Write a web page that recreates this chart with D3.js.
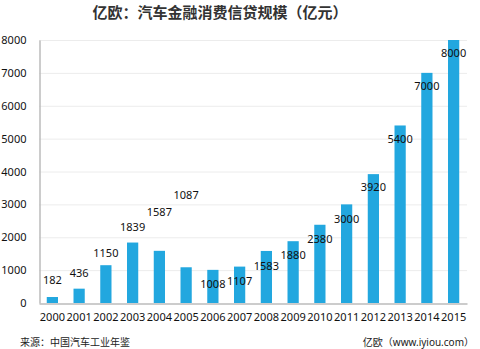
<!DOCTYPE html>
<html><head><meta charset="utf-8">
<script src="https://cdn.jsdelivr.net/npm/d3@7"></script>
<style>
html,body{margin:0;padding:0;background:#fff;}
svg{display:block;font-family:"Noto Sans","Noto Sans CJK SC",sans-serif;}
</style></head>
<body><svg id="c" width="480" height="349"></svg>
<script>
const years = ["2000","2001","2002","2003","2004","2005","2006","2007","2008","2009","2010","2011","2012","2013","2014","2015"];
const values = [182,436,1150,1839,1587,1087,1008,1107,1583,1880,2380,3000,3920,5400,7000,8000];
// where each value label sits, in data units (as in the original picture)
const labelAt = [700,910,1520,2310,2770,3280,580,670,1120,1460,1950,2560,3530,4980,6600,7600];
const yTicks = [0,1000,2000,3000,4000,5000,6000,7000,8000];
const title = "亿欧：汽车金融消费信贷规模（亿元）";
const source = "来源：中国汽车工业年鉴";
const credit = "亿欧（www.iyiou.com）";

const svg = d3.select("#c");
const x = d3.scaleBand().domain(years).range([39,467]).paddingInner(0.58).paddingOuter(0.29);
const y = d3.scaleLinear().domain([0,8000]).range([303,40]);

svg.append("text").attr("x",220).attr("y",18).attr("text-anchor","middle")
  .attr("font-size",15).attr("font-weight","bold").attr("fill","#333").text(title);

// gridlines
svg.append("g").selectAll("line").data(yTicks.slice(1)).join("line")
  .attr("x1",39).attr("x2",467).attr("y1",d=>y(d)+0.5).attr("y2",d=>y(d)+0.5)
  .attr("stroke","#ececec").attr("stroke-width",1);

// y axis
const ya = svg.append("g").attr("transform","translate(39.5,0)")
  .call(d3.axisLeft(y).tickValues(yTicks).tickSize(0).tickPadding(13).tickFormat(d3.format("d")));
ya.select(".domain").attr("stroke","#bbb").attr("stroke-width",1.5);
ya.selectAll("text").attr("font-size",11).attr("fill","#111").attr("font-family","'Noto Sans',sans-serif");

// bars
svg.append("g").selectAll("rect").data(values).join("rect")
  .attr("x",(d,i)=>x(years[i])).attr("width",x.bandwidth())
  .attr("y",d=>y(d)).attr("height",d=>y(0)-y(d)).attr("fill","#22a7df");

// x axis
const xa = svg.append("g").attr("transform","translate(0,303.5)")
  .call(d3.axisBottom(x).tickSize(0).tickPadding(10));
xa.select(".domain").attr("stroke","#bbb").attr("stroke-width",1.5);
xa.selectAll("text").attr("font-size",11).attr("fill","#111").attr("font-family","'Noto Sans',sans-serif");

// labels
svg.append("g").selectAll("text").data(values).join("text")
  .attr("x",(d,i)=>x(years[i])+x.bandwidth()/2).attr("y",(d,i)=>y(labelAt[i]))
  .attr("dy","0.35em").attr("text-anchor","middle").attr("font-size",11).attr("fill","#111")
  .text(d=>d);

svg.append("text").attr("x",20).attr("y",342).attr("dy","0.35em").attr("font-size",10).attr("fill","#222").text(source);
svg.append("text").attr("x",474).attr("y",342).attr("dy","0.35em").attr("text-anchor","end").attr("font-size",10).attr("fill","#222").text(credit);
</script></body></html>
